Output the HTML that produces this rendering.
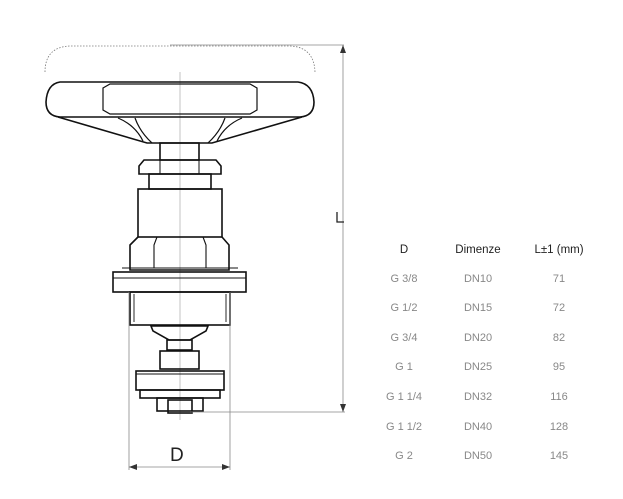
<!DOCTYPE html>
<html><head><style>
html,body{margin:0;padding:0;background:#fff;}
body{width:623px;height:499px;position:relative;overflow:hidden;font-family:"Liberation Sans",sans-serif;}
.t{position:absolute;font-size:11px;color:#888;text-align:center;width:80px;}
.h{color:#222;font-size:11.5px;}
</style></head><body>
<svg width="623" height="499" style="position:absolute;left:0;top:0" fill="none" stroke="#111" stroke-width="1.6">
<!-- dashed arc -->
<path d="M45,72 Q45,47 70,46 L290,46 Q314,47 315,72" stroke="#777" stroke-width="0.8" stroke-dasharray="1.5,1.5"/>
<!-- center line -->
<line x1="180" y1="72" x2="180" y2="420" stroke="#aaa" stroke-width="0.7"/>
<!-- wheel -->
<path d="M60,82 L298,82 Q313,84 314,102 Q314,116 300,117 L60,117 Q46,116 46,102 Q47,84 60,82 Z"/>
<path d="M103,88 L110,84 L250,84 L257,88 L257,110 L250,114 L110,114 L103,110 Z" stroke-width="1.2"/>
<path d="M58,117 L147,143 L212,143 L302,117"/>
<path d="M135,118 Q140,132 152,143 M225,118 Q220,132 208,143" stroke-width="1.2"/>
<path d="M118,118 Q135,125 143,141 M242,118 Q225,125 217,141" stroke-width="1.2"/>
<!-- stem -->
<rect x="160" y="143" width="39" height="17"/>
<path d="M144,160 L216,160 L221,166 L221,174 L139,174 L139,166 Z"/>
<line x1="160" y1="160" x2="160" y2="174" stroke-width="1"/><line x1="199" y1="160" x2="199" y2="174" stroke-width="1"/>
<rect x="149" y="174" width="62" height="15"/>
<rect x="138" y="189" width="84" height="48"/>
<!-- hex nut -->
<path d="M138,237 L130,245 L130,270 L229,270 L229,245 L222,237"/>
<path d="M157,237 L154,245 L154,268 M203,237 L206,245 L206,268" stroke-width="1.1"/>
<!-- flange -->
<rect x="113" y="272" width="133" height="20"/>
<line x1="113" y1="278" x2="246" y2="278" stroke-width="1"/>
<line x1="122" y1="268" x2="238" y2="268" stroke-width="1"/>
<!-- thread part -->
<rect x="130" y="292" width="100" height="33"/>
<line x1="134" y1="294" x2="134" y2="322" stroke-width="0.9"/><line x1="226" y1="294" x2="226" y2="322" stroke-width="0.9"/>
<path d="M151,326 L208,326 L206,331 L190,340 L169,340 L153,331 Z"/>
<rect x="167" y="340" width="25" height="10"/>
<rect x="160" y="351" width="39" height="18"/>
<rect x="136" y="371" width="88" height="19"/>
<line x1="136" y1="374" x2="224" y2="374" stroke-width="1"/>
<rect x="140" y="390" width="80" height="8"/>
<rect x="157" y="398" width="46" height="13"/>
<rect x="168" y="400" width="24" height="13"/>
<!-- dimensions -->
<g stroke="#888" stroke-width="0.8">
<line x1="170" y1="45" x2="344" y2="45"/>
<line x1="343" y1="45" x2="343" y2="412"/>
<line x1="190" y1="412" x2="345" y2="412"/>
<line x1="129" y1="292" x2="129" y2="470"/>
<line x1="230" y1="292" x2="230" y2="470"/>
<line x1="129" y1="467" x2="230" y2="467"/>
</g>
<path d="M343,45 L340,53 L346,53 Z M343,412 L340,404 L346,404 Z M129,467 L137,464 L137,470 Z M230,467 L222,464 L222,470 Z" fill="#333" stroke="none"/>
<path d="M337,212 L337,222 L344,222" stroke="#222" stroke-width="1.3"/>
</svg>
<div style="position:absolute;left:170px;top:445px;font-size:19px;color:#222;">D</div>
<div class="t h" style="left:364px;top:244px">D</div>
<div class="t h" style="left:438px;top:244px">Dimenze</div>
<div class="t h" style="left:519px;top:244px">L±1 (mm)</div>
<div class="t" style="left:364px;top:273px">G 3/8</div><div class="t" style="left:438px;top:273px">DN10</div><div class="t" style="left:519px;top:273px">71</div>
<div class="t" style="left:364px;top:302px">G 1/2</div><div class="t" style="left:438px;top:302px">DN15</div><div class="t" style="left:519px;top:302px">72</div>
<div class="t" style="left:364px;top:332px">G 3/4</div><div class="t" style="left:438px;top:332px">DN20</div><div class="t" style="left:519px;top:332px">82</div>
<div class="t" style="left:364px;top:361px">G 1</div><div class="t" style="left:438px;top:361px">DN25</div><div class="t" style="left:519px;top:361px">95</div>
<div class="t" style="left:364px;top:391px">G 1 1/4</div><div class="t" style="left:438px;top:391px">DN32</div><div class="t" style="left:519px;top:391px">116</div>
<div class="t" style="left:364px;top:421px">G 1 1/2</div><div class="t" style="left:438px;top:421px">DN40</div><div class="t" style="left:519px;top:421px">128</div>
<div class="t" style="left:364px;top:450px">G 2</div><div class="t" style="left:438px;top:450px">DN50</div><div class="t" style="left:519px;top:450px">145</div>
</body></html>
